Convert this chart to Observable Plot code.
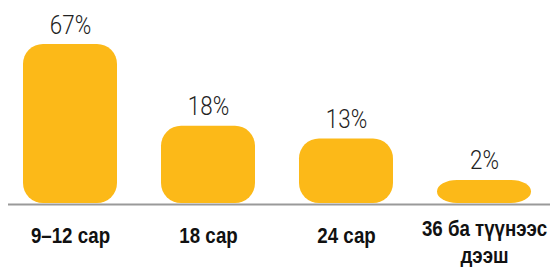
<!DOCTYPE html>
<html>
<head>
<meta charset="utf-8">
<script src="https://cdn.jsdelivr.net/npm/d3@7"></script>
<script src="https://cdn.jsdelivr.net/npm/@observablehq/plot@0.6"></script>
<style>
  html, body { margin: 0; padding: 0; background: #fff; }
  #chart svg { display: block; }
</style>
</head>
<body>
<div id="chart"></div>
<script>
const categories = ["9–12 сар", "18 сар", "24 сар", "36 ба түүнээс\nдээш"];
const values = [67, 18, 13, 2];
const valueLabels = ["67%", "18%", "13%", "2%"];

const data = categories.map((c, i) => ({category: c, value: values[i], label: valueLabels[i]}));
const single = data.filter(d => !d.category.includes("\n"));
const multi = data.filter(d => d.category.includes("\n"));

const barColor = "#fcb918";
const valueFont = "Roboto, 'Liberation Sans', sans-serif";
const catFont = "'Liberation Sans', Arimo, sans-serif";

const chart = Plot.plot({
  width: 550,
  height: 267,
  marginLeft: 8,
  marginRight: 0,
  marginTop: 44,
  marginBottom: 64,
  style: {fontFamily: catFont, background: "#fff"},
  x: {domain: categories, paddingInner: 0.3205, paddingOuter: 0.1193, align: 0.424, axis: null},
  y: {domain: [0, 67], type: "pow", exponent: 0.55, axis: null},
  marks: [
    Plot.barY(data, {x: "category", y: "value", fill: barColor, rx: 20}),
    Plot.ruleY([0], {stroke: "#9a9a9a", strokeWidth: 2, dy: 1}),
    Plot.text(data, {x: "category", y: "value", text: "label", lineAnchor: "bottom", dy: -11,
      fontSize: 26, fontWeight: 300, fill: "#222", fontFamily: valueFont, className: "vlabel"}),
    Plot.text(single, {x: "category", text: "category", frameAnchor: "bottom", lineAnchor: "middle", dy: 32,
      fontSize: 22, fontWeight: "bold", fill: "#111", fontFamily: catFont, className: "clabel"}),
    Plot.text(multi, {x: "category", text: "category", frameAnchor: "bottom", lineAnchor: "top", dy: 14,
      lineHeight: 1.2, fontSize: 22, fontWeight: "bold", fill: "#111", fontFamily: catFont, className: "clabel"})
  ]
});
document.getElementById("chart").appendChild(chart);

// condensed look: horizontal squeeze of the text glyphs
function squeeze(sel, k) {
  chart.querySelectorAll(sel).forEach(t => {
    const tr = t.getAttribute("transform") || "";
    t.setAttribute("transform", tr + ` scale(${k},1)`);
  });
}
squeeze(".vlabel text", 0.86);
squeeze(".clabel text", 0.85);
</script>
</body>
</html>
